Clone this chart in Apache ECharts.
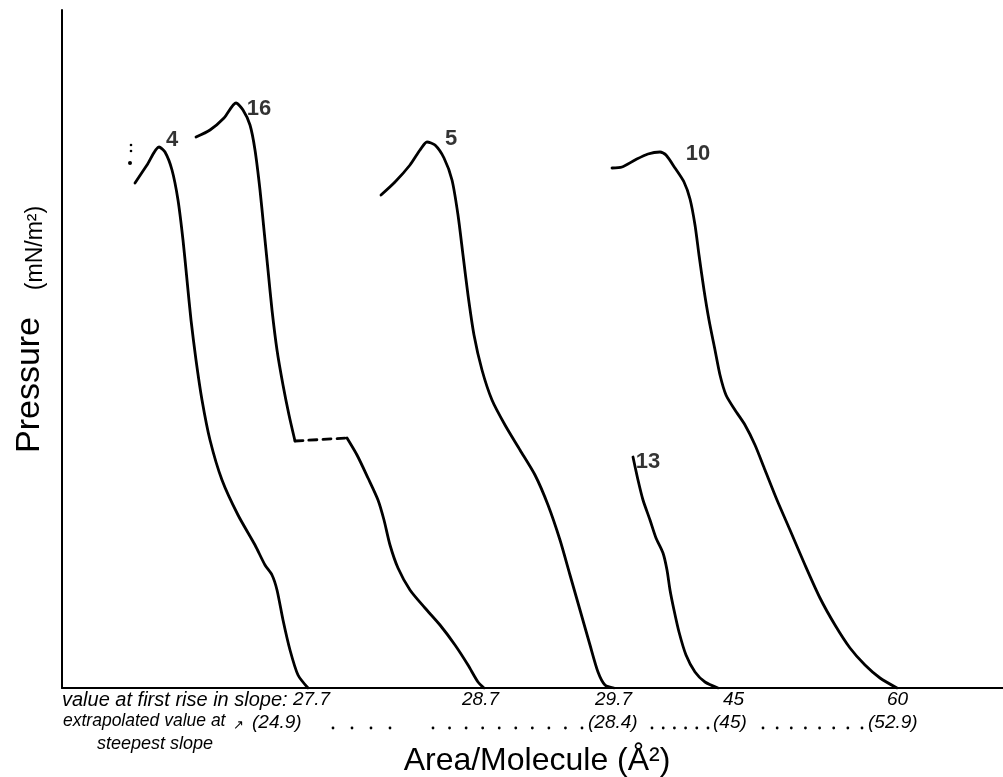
<!DOCTYPE html>
<html><head><meta charset="utf-8">
<script src="https://cdn.jsdelivr.net/npm/echarts@6/dist/echarts.min.js"></script>
<style>html,body{margin:0;padding:0;background:#fff}#c{width:1003px;height:777px}</style>
</head><body><div id="c"></div>
<script>
// Relative area (x) and relative surface pressure (y), arbitrary units
const curve4 = [[7.3,50.5],[8.5,52.3],[9.7,54.1],[10.3,53.6],[11.0,51.8],[11.6,48.8],[12.1,44.8],[12.5,40.8],[12.9,36.8],[13.4,32.8],[14.0,28.8],[14.8,24.8],[16.0,20.8],[17.6,17.3],[19.3,14.3],[20.3,12.3],[21.0,11.3],[21.5,9.8],[22.1,6.8],[22.8,3.8],[23.6,1.3],[24.6,0]];
const curve16 = [[13.4,55.1],[14.8,55.8],[16.2,57.0],[17.4,58.5],[18.1,57.8],[18.8,56.3],[19.3,53.8],[19.8,49.8],[20.2,45.8],[20.6,41.8],[21.0,37.8],[21.5,33.8],[22.1,30.3],[22.7,27.3],[23.3,24.7]];
const link16 = [[23.3,24.7],[28.5,25.0]];
const curve16b = [[28.5,25.0],[29.5,23.3],[30.6,21.0],[31.6,18.8],[32.2,16.8],[32.8,14.3],[33.6,12.0],[34.8,9.8],[36.3,8.0],[37.8,6.3],[39.3,4.3],[40.6,2.3],[41.6,0.6],[42.2,0]];
const curve5 = [[31.9,49.3],[33.3,50.6],[34.8,52.3],[35.8,53.8],[36.5,54.6],[37.3,54.3],[38.2,53.0],[39.0,50.8],[39.6,47.3],[40.1,43.3],[40.6,39.3],[41.2,35.3],[42.0,31.8],[43.0,28.8],[44.3,26.3],[45.8,23.8],[47.3,21.3],[48.6,18.3],[49.8,14.8],[50.8,11.3],[51.8,7.8],[52.8,4.3],[53.6,1.6],[54.3,0.3],[55.2,0]];
const curve10 = [[55.0,52.0],[56.0,52.1],[57.3,52.8],[58.6,53.4],[59.8,53.6],[60.4,53.3],[61.3,52.0],[62.2,50.6],[62.8,48.9],[63.3,46.3],[63.7,43.3],[64.2,39.8],[64.7,36.8],[65.3,33.8],[65.8,31.3],[66.4,29.3],[67.3,27.8],[68.3,26.3],[69.3,24.3],[70.3,21.8],[71.5,18.8],[72.8,15.8],[74.3,12.3],[75.8,9.0],[77.3,6.3],[78.8,4.0],[80.3,2.3],[81.8,1.0],[83.5,0]];
const curve13 = [[57.1,23.1],[57.6,20.8],[58.1,18.8],[58.8,16.8],[59.4,15.0],[60.1,13.5],[60.5,11.8],[60.8,9.8],[61.2,7.8],[61.7,5.6],[62.4,3.3],[63.3,1.6],[64.3,0.6],[65.6,0]];
const curveNames = ['4','16','5','10','13'];
const curveLabelAt = [[11.0,54.8],[19.7,57.9],[38.9,54.9],[63.6,53.4],[58.6,22.6]];
const firstRise = ['27.7','28.7','29.7','45','60'];
const extrapolated = ['(24.9)','(28.4)','(45)','(52.9)'];
const xTitle = 'Area/Molecule (Å²)';
const yTitleMain = 'Pressure';
const yTitleUnit = '(mN/m²)';
const rowTitle1 = 'value at first rise in slope:';
const rowTitle2a = 'extrapolated value at';
const rowTitle2b = 'steepest slope';

const FONT = 'Liberation Sans';
const chart = echarts.init(document.getElementById('c'));
const lineSeries = (name, data, dashed) => ({
  type: 'line', name, data, smooth: 0.25, showSymbol: false, symbol: 'none',
  lineStyle: { color: '#000', width: 2.8, type: dashed ? [8, 6] : 'solid', cap: 'round', join: 'round' },
  silent: true, animation: false, z: 3
});

const graphics = [];
function txt(text, left, cy, size, opts) {
  graphics.push(Object.assign({ type: 'text', x: left, y: cy,
    style: { text, font: (opts && opts.italic ? 'italic ' : '') + size + 'px "' + FONT + '"', fill: '#000', align: (opts && opts.align) || 'left', verticalAlign: 'middle' } },
    opts && opts.rotation ? { rotation: opts.rotation } : {}));
}
function dotRow(x0, x1, n, cy) {
  for (let i = 0; i < n; i++) {
    const x = x0 + (x1 - x0) * (n === 1 ? 0 : i / (n - 1));
    graphics.push({ type: 'circle', shape: { cx: x, cy: cy + 5, r: 1.4 }, style: { fill: '#000' } });
  }
}
// bottom annotation rows
txt(rowTitle1, 62, 700, 20, { italic: true });
const row1Left = [293, 462, 595, 723, 887];
firstRise.forEach((t, i) => txt(t, row1Left[i], 700, 19, { italic: true }));
txt(rowTitle2a, 63, 721, 17.5, { italic: true });
txt('↗', 233, 725, 13, {});
const row2Left = [252, 588, 713, 868];
extrapolated.forEach((t, i) => txt(t, row2Left[i], 723, 19, { italic: true }));
txt(rowTitle2b, 97, 744, 18, { italic: true });
dotRow(333, 390, 4, 723);
dotRow(433, 582, 10, 723);
dotRow(652, 708, 6, 723);
dotRow(763, 862, 8, 723);
// axis titles
txt(xTitle, 537, 761, 32, { align: 'center' });
txt(yTitleMain, 30, 385, 34, { align: 'center', rotation: Math.PI / 2 });
txt(yTitleUnit, 36, 248, 23, { align: 'center', rotation: Math.PI / 2 });
// small marks by curve 4
graphics.push({ type: 'circle', shape: { cx: 131, cy: 145, r: 1.3 }, style: { fill: '#000' } });
graphics.push({ type: 'circle', shape: { cx: 131, cy: 151, r: 1.3 }, style: { fill: '#000' } });
graphics.push({ type: 'circle', shape: { cx: 130, cy: 163, r: 2 }, style: { fill: '#000' } });

chart.setOption({
  animation: false,
  backgroundColor: '#fff',
  grid: { left: 62, right: 0, top: 10, bottom: 89 },
  xAxis: { type: 'value', min: 0, max: 94.1, axisLine: { show: true, onZero: false, lineStyle: { color: '#000', width: 2 } },
    axisTick: { show: false }, axisLabel: { show: false }, splitLine: { show: false } },
  yAxis: { type: 'value', min: 0, max: 67.8, axisLine: { show: true, onZero: false, lineStyle: { color: '#000', width: 2 } },
    axisTick: { show: false }, axisLabel: { show: false }, splitLine: { show: false } },
  series: [
    lineSeries('4', curve4),
    lineSeries('16', curve16),
    lineSeries('16 link', link16, true),
    lineSeries('16b', curve16b),
    lineSeries('5', curve5),
    lineSeries('10', curve10),
    lineSeries('13', curve13),
    { type: 'scatter', name: 'labels', symbolSize: 1, itemStyle: { color: 'rgba(0,0,0,0)' }, silent: true, z: 5,
      data: curveNames.map((n, i) => ({ name: n, value: curveLabelAt[i] })),
      label: { show: true, position: 'inside', formatter: '{b}', color: '#000', fontSize: 22, fontWeight: 'bold', fontFamily: FONT } }
  ],
  graphic: graphics
});
</script></body></html>
